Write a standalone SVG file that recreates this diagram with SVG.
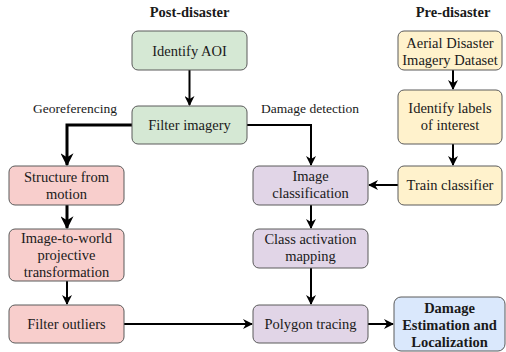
<svg xmlns="http://www.w3.org/2000/svg" width="506" height="352" viewBox="0 0 506 352">
  <style>
    .box { stroke: #5a5a5a; stroke-width: 1; }
    .green { fill: #d5e8d4; }
    .pink { fill: #f8cecc; }
    .purple { fill: #e1d5e7; }
    .yellow { fill: #fff2cc; }
    .blue { fill: #dae8fc; }
    text { font-family: "Liberation Serif", "Times New Roman", serif; font-size: 14.5px; fill: #1a1a1a; text-anchor: middle; }
    .title { font-weight: bold; font-size: 14.5px; }
    .bold { font-weight: bold; }
    .label { font-size: 13.5px; }
    .edge { fill: none; stroke: #000; stroke-width: 2; }
    .thick { stroke-width: 3; }
  </style>
  <defs>
    <marker id="arrow" viewBox="0 0 10 10" refX="9" refY="5" markerWidth="10" markerHeight="10" markerUnits="userSpaceOnUse" orient="auto">
      <path d="M0,0 L10,5 L0,10 L3,5 Z" fill="#000"/>
    </marker>
    <marker id="arrowBig" viewBox="0 0 10 10" refX="9" refY="5" markerWidth="13" markerHeight="13" markerUnits="userSpaceOnUse" orient="auto">
      <path d="M0,0 L10,5 L0,10 L3,5 Z" fill="#000"/>
    </marker>
  </defs>

  <!-- column headings -->
  <text class="title" x="189.5" y="17">Post-disaster</text>
  <text class="title" x="453" y="17">Pre-disaster</text>

  <!-- branch labels -->
  <text class="label" x="75" y="113">Georeferencing</text>
  <text class="label" x="310" y="113">Damage detection</text>

  <!-- connectors -->
  <g id="connectors">
    <path class="edge" d="M189.5,70 V105" marker-end="url(#arrow)"/>
    <path class="edge thick" d="M132,125 H67 V165" marker-end="url(#arrowBig)"/>
    <path class="edge" d="M247,125 H311 V165" marker-end="url(#arrow)"/>
    <path class="edge thick" d="M67,205 V228" marker-end="url(#arrowBig)"/>
    <path class="edge" d="M67,281 V304" marker-end="url(#arrow)"/>
    <path class="edge" d="M124,324 H252" marker-end="url(#arrow)"/>
    <path class="edge" d="M398,185 H369" marker-end="url(#arrow)"/>
    <path class="edge" d="M311,205 V228" marker-end="url(#arrow)"/>
    <path class="edge" d="M311,268 V304" marker-end="url(#arrow)"/>
    <path class="edge" d="M368,324 H393" marker-end="url(#arrow)"/>
    <path class="edge" d="M453,70 V89" marker-end="url(#arrow)"/>
    <path class="edge" d="M453,144 V165" marker-end="url(#arrow)"/>
  </g>

  <!-- post-disaster nodes -->
  <g id="identify-aoi">
    <rect class="box green" x="132" y="31" width="115" height="39" rx="6"/>
    <text x="189.5" y="56">Identify AOI</text>
  </g>
  <g id="filter-imagery">
    <rect class="box green" x="132" y="106" width="115" height="38" rx="6"/>
    <text x="189.5" y="130">Filter imagery</text>
  </g>
  <g id="structure-from-motion">
    <rect class="box pink" x="9" y="166" width="115" height="39" rx="6"/>
    <text x="66.5" y="182">Structure from</text>
    <text x="66.5" y="199">motion</text>
  </g>
  <g id="image-to-world">
    <rect class="box pink" x="9" y="229" width="115" height="52" rx="6"/>
    <text x="66.5" y="243">Image-to-world</text>
    <text x="66.5" y="260">projective</text>
    <text x="66.5" y="277">transformation</text>
  </g>
  <g id="filter-outliers">
    <rect class="box pink" x="9" y="305" width="115" height="38" rx="6"/>
    <text x="66.5" y="329">Filter outliers</text>
  </g>
  <g id="image-classification">
    <rect class="box purple" x="253" y="166" width="115" height="39" rx="6"/>
    <text x="310.5" y="181">Image</text>
    <text x="310.5" y="198">classification</text>
  </g>
  <g id="class-activation-mapping">
    <rect class="box purple" x="253" y="229" width="115" height="39" rx="6"/>
    <text x="310.5" y="244">Class activation</text>
    <text x="310.5" y="261">mapping</text>
  </g>
  <g id="polygon-tracing">
    <rect class="box purple" x="253" y="305" width="115" height="38" rx="6"/>
    <text x="310.5" y="329">Polygon tracing</text>
  </g>
  <g id="damage-estimation">
    <rect class="box blue" x="394" y="297" width="111" height="54" rx="7"/>
    <text class="bold" x="449.5" y="313">Damage</text>
    <text class="bold" x="449.5" y="330">Estimation and</text>
    <text class="bold" x="449.5" y="347">Localization</text>
  </g>

  <!-- pre-disaster nodes -->
  <g id="aerial-dataset">
    <rect class="box yellow" x="398" y="31" width="104" height="39" rx="6"/>
    <text x="450" y="48">Aerial Disaster</text>
    <text x="450" y="65">Imagery Dataset</text>
  </g>
  <g id="identify-labels">
    <rect class="box yellow" x="398" y="90" width="104" height="54" rx="6"/>
    <text x="450" y="113">Identify labels</text>
    <text x="450" y="130">of interest</text>
  </g>
  <g id="train-classifier">
    <rect class="box yellow" x="398" y="166" width="104" height="39" rx="6"/>
    <text x="450" y="190">Train classifier</text>
  </g>
</svg>
